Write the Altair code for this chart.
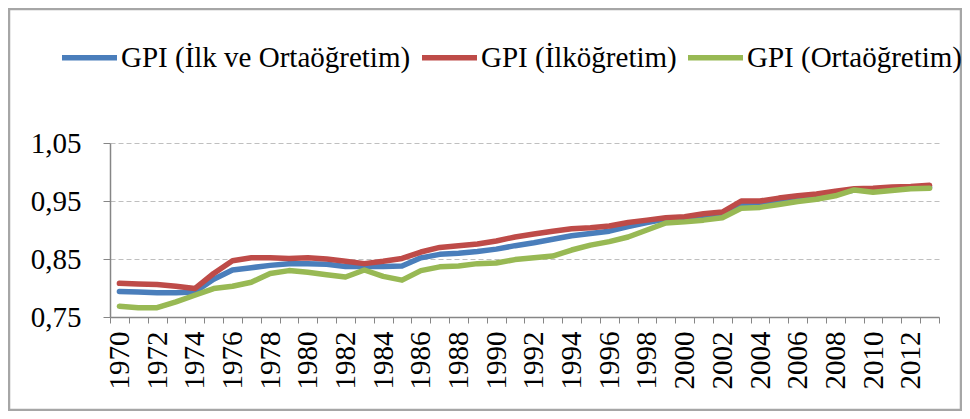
import altair as alt
import pandas as pd

years = [str(y) for y in range(1970, 2014)]

series_names = ["GPI (İlk ve Ortaöğretim)", "GPI (İlköğretim)", "GPI (Ortaöğretim)"]
colors = ["#4A7EBB", "#BE4B48", "#98B954"]

gpi_ilk_orta = [0.794, 0.793, 0.792, 0.792, 0.793, 0.815, 0.831, 0.835, 0.839, 0.842,
                0.842, 0.841, 0.837, 0.837, 0.837, 0.838, 0.852, 0.858, 0.860, 0.863,
                0.867, 0.873, 0.878, 0.884, 0.890, 0.894, 0.898, 0.906, 0.913, 0.919,
                0.918, 0.922, 0.925, 0.943, 0.944, 0.949, 0.953, 0.957, 0.963, 0.969,
                0.968, 0.971, 0.973, 0.974]
gpi_ilk = [0.808, 0.807, 0.806, 0.803, 0.799, 0.825, 0.847, 0.852, 0.852, 0.851,
           0.852, 0.850, 0.846, 0.842, 0.846, 0.851, 0.862, 0.870, 0.873, 0.876,
           0.881, 0.888, 0.893, 0.898, 0.902, 0.904, 0.907, 0.913, 0.917, 0.921,
           0.923, 0.928, 0.931, 0.950, 0.950, 0.955, 0.959, 0.962, 0.967, 0.971,
           0.972, 0.974, 0.975, 0.977]
gpi_orta = [0.7685, 0.766, 0.766, 0.776, 0.7875, 0.799, 0.803, 0.810, 0.825, 0.830,
            0.827, 0.823, 0.819, 0.831, 0.820, 0.8135, 0.830, 0.8365, 0.838, 0.842,
            0.843, 0.849, 0.852, 0.855, 0.8655, 0.874, 0.880, 0.888, 0.900, 0.912,
            0.914, 0.917, 0.921, 0.9375, 0.939, 0.944, 0.949, 0.953, 0.959, 0.969,
            0.965, 0.968, 0.971, 0.972]

rows = []
for name, vals in zip(series_names, [gpi_ilk_orta, gpi_ilk, gpi_orta]):
    for y, v in zip(years, vals):
        rows.append({"year": y, "value": v, "series": name})
df = pd.DataFrame(rows)

FONT = "Times New Roman, Liberation Serif, serif"
W, H = 829, 174

color_scale = alt.Scale(domain=series_names, range=colors)

x_enc = alt.X(
    "year:O",
    scale=alt.Scale(type="band", paddingInner=0, paddingOuter=0),
    axis=alt.Axis(
        title=None, labelAngle=270, labelFontSize=29, labelFont=FONT, labelColor="black",
        labelExpr="toNumber(datum.value) % 2 === 0 ? datum.value : ''",
        labelOverlap=False, labelPadding=8, tickBand="extent", tickSize=6,
        tickColor="#868686", domainColor="#868686", domainWidth=1.5, grid=False, zindex=1,
    ),
)
y_enc = alt.Y(
    "value:Q",
    scale=alt.Scale(domain=[0.75, 1.05], nice=False, zero=False),
    axis=alt.Axis(
        title=None, values=[0.75, 0.85, 0.95, 1.05],
        labelExpr="replace(format(datum.value, '.2f'), '.', ',')",
        labelFontSize=29, labelFont=FONT, labelColor="black", labelPadding=22,
        tickSize=7, tickColor="#868686", domainColor="#868686", domainWidth=1.5,
        grid=True, gridDash=[5, 3], gridColor="#BFBFBF", gridWidth=1.2,
    ),
)

layers = []
for name in series_names:
    layers.append(
        alt.Chart(df)
        .transform_filter(alt.datum.series == name)
        .mark_line(strokeWidth=5.5, strokeCap="round", strokeJoin="round")
        .encode(
            x=x_enc,
            y=y_enc,
            color=alt.Color(
                "series:N", scale=color_scale,
                legend=alt.Legend(
                    orient="none", legendX=-51, legendY=-116, direction="horizontal",
                    columns=3, symbolType="stroke", symbolSize=3025, symbolStrokeWidth=5.5,
                    labelFontSize=29, labelFont=FONT, labelColor="black", labelLimit=600,
                    labelOffset=1, columnPadding=0, title=None,
                ),
            ),
        )
    )

frame = alt.Chart(pd.DataFrame({"a": [0]})).mark_rect(
    fill=None, stroke="#A6A6A6", strokeWidth=2.5
).encode(
    x=alt.value(-101), x2=alt.value(W + 22), y=alt.value(-134), y2=alt.value(H + 93)
)

chart = alt.layer(frame, *layers).properties(
    width=W, height=H,
    padding={"left": 102, "top": 135, "right": 23, "bottom": 94},
    autosize=alt.AutoSizeParams(type="none"),
).configure_view(stroke=None)

chart.save("out.html", embed_options={"renderer": "svg", "actions": False})
